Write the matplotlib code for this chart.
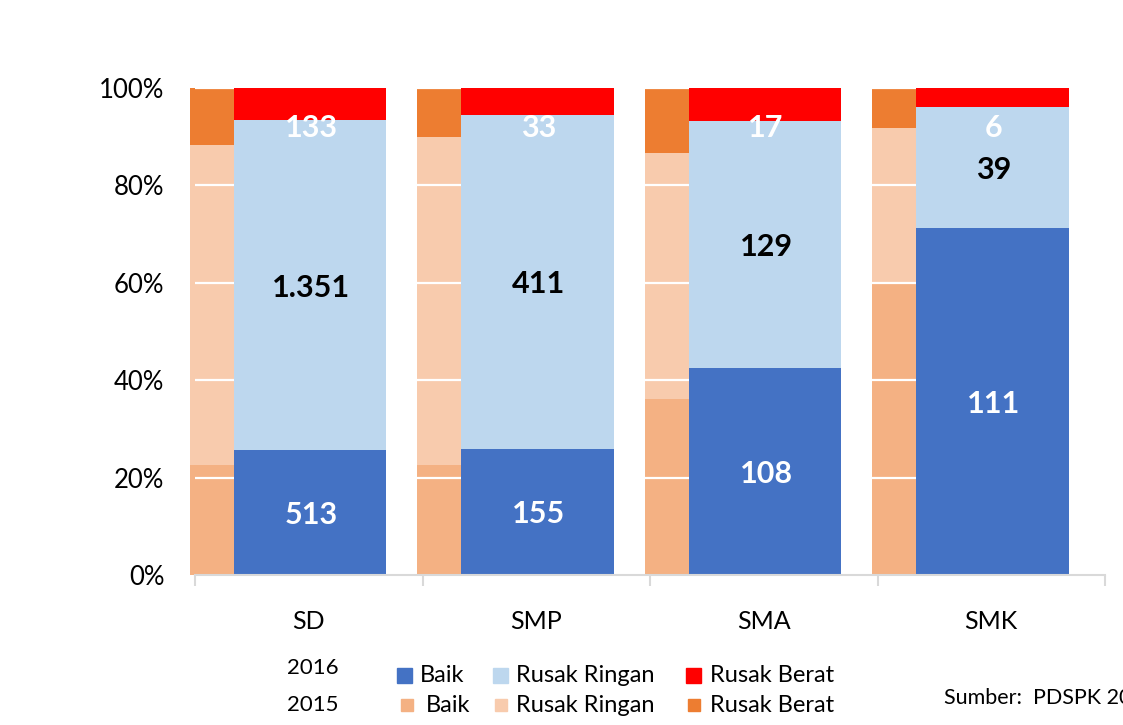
import matplotlib.pyplot as plt
from matplotlib.patches import Rectangle
import numpy as np

plt.rcParams['font.family'] = ['Lato', 'DejaVu Sans']

categories = ['SD', 'SMP', 'SMA', 'SMK']

# 2016: counts of school rooms by condition
baik_2016 = [513, 155, 108, 111]
ringan_2016 = [1351, 411, 129, 39]
berat_2016 = [133, 33, 17, 6]

# 2015: shares (%), no labels shown
baik_2015 = [22.6, 22.6, 36.2, 60.2]
ringan_2015 = [65.7, 67.3, 50.5, 31.5]
berat_2015 = [11.7, 10.1, 13.3, 8.3]

legend_labels = ['Baik', 'Rusak Ringan', 'Rusak Berat']
colors_2016 = ['#4472C4', '#BDD7EE', '#FF0000']
colors_2015 = ['#F4B183', '#F8CBAD', '#ED7D31']

W, H = 1123, 725
fig = plt.figure(figsize=(W / 100, H / 100), dpi=100)
ax = fig.add_axes([195 / W, 1 - 575 / H, 910 / W, 487 / H])

x = np.arange(len(categories))

# 2016 shares
tot = np.array(baik_2016) + np.array(ringan_2016) + np.array(berat_2016)
p_baik = np.array(baik_2016) / tot * 100
p_ringan = np.array(ringan_2016) / tot * 100
p_berat = np.array(berat_2016) / tot * 100

# 2015 bars (behind)
b15 = np.array(baik_2015)
r15 = np.array(ringan_2015)
k15 = np.array(berat_2015)
ax.bar(x - 0.522, b15, width=0.6, align='edge', color=colors_2015[0], zorder=1, clip_on=False)
ax.bar(x - 0.522, r15, bottom=b15, width=0.6, align='edge', color=colors_2015[1], zorder=1, clip_on=False)
ax.bar(x - 0.522, k15, bottom=b15 + r15, width=0.6, align='edge', color=colors_2015[2], zorder=1, clip_on=False)

# white gridlines sit between the two years
for yv in [20, 40, 60, 80, 100]:
    ax.axhline(yv, color='white', lw=1.6, zorder=2)

# 2016 bars (front)
ax.bar(x - 0.329, p_baik, width=0.669, align='edge', color=colors_2016[0], zorder=3)
ax.bar(x - 0.329, p_ringan, bottom=p_baik, width=0.669, align='edge', color=colors_2016[1], zorder=3)
ax.bar(x - 0.329, p_berat, bottom=p_baik + p_ringan, width=0.669, align='edge', color=colors_2016[2], zorder=3)

def fmt(v):
    return f"{v:,}".replace(',', '.')

for i in range(len(categories)):
    xc = x[i] + 0.01
    ax.text(xc, p_baik[i] / 2, fmt(baik_2016[i]), ha='center', va='center_baseline',
            color='white', fontsize=22, fontweight='bold', zorder=4)
    ax.text(xc, p_baik[i] + p_ringan[i] / 2, fmt(ringan_2016[i]), ha='center', va='center_baseline',
            color='black', fontsize=22, fontweight='bold', zorder=4)
    ax.text(xc, 92.4, fmt(berat_2016[i]), ha='center', va='center_baseline',
            color='white', fontsize=22, fontweight='bold', zorder=4)

ax.set_xlim(-0.5, len(categories) - 0.5)
ax.set_ylim(0, 100)
ax.set_yticks([0, 20, 40, 60, 80, 100])
ax.set_yticklabels([f'{v}%' for v in [0, 20, 40, 60, 80, 100]], fontsize=18.5)
ax.set_xticks(x)
ax.set_xticklabels(categories, fontsize=18)
ax.set_xticks(np.arange(-0.5, len(categories), 1), minor=True)
ax.tick_params(axis='y', length=0, pad=22)
ax.tick_params(axis='x', which='major', length=0, pad=25)
ax.tick_params(axis='x', which='minor', length=8, width=1.5, color='#D9D9D9', direction='out')
for s in ['left', 'right', 'top']:
    ax.spines[s].set_visible(False)
ax.spines['bottom'].set_color('#D9D9D9')
ax.spines['bottom'].set_linewidth(1.5)
ax.spines['bottom'].set_zorder(5)

# legend drawn by hand in two rows
def fx(px):
    return px / W

def fy(py):
    return 1 - py / H

fig.text(fx(287), fy(668), '2016', fontsize=16, va='center', ha='left')
fig.text(fx(287), fy(705), '2015', fontsize=16, va='center', ha='left')

row16 = [(397, 420), (493, 516), (686, 710)]
row15 = [(401, 426), (495, 516), (688, 710)]
for (sq, tx), lab, c in zip(row16, legend_labels, colors_2016):
    fig.add_artist(Rectangle((fx(sq), fy(683)), 15 / W, 15 / H, color=c, transform=fig.transFigure))
    fig.text(fx(tx), fy(676), lab, fontsize=17, va='center', ha='left')
for (sq, tx), lab, c in zip(row15, legend_labels, colors_2015):
    fig.add_artist(Rectangle((fx(sq), fy(711)), 12 / W, 12 / H, color=c, transform=fig.transFigure))
    fig.text(fx(tx), fy(705), lab, fontsize=17, va='center', ha='left')

fig.text(fx(944), fy(698), 'Sumber:  PDSPK 2016', fontsize=15.5, va='center', ha='left')

fig.savefig('out.png', dpi=100)
